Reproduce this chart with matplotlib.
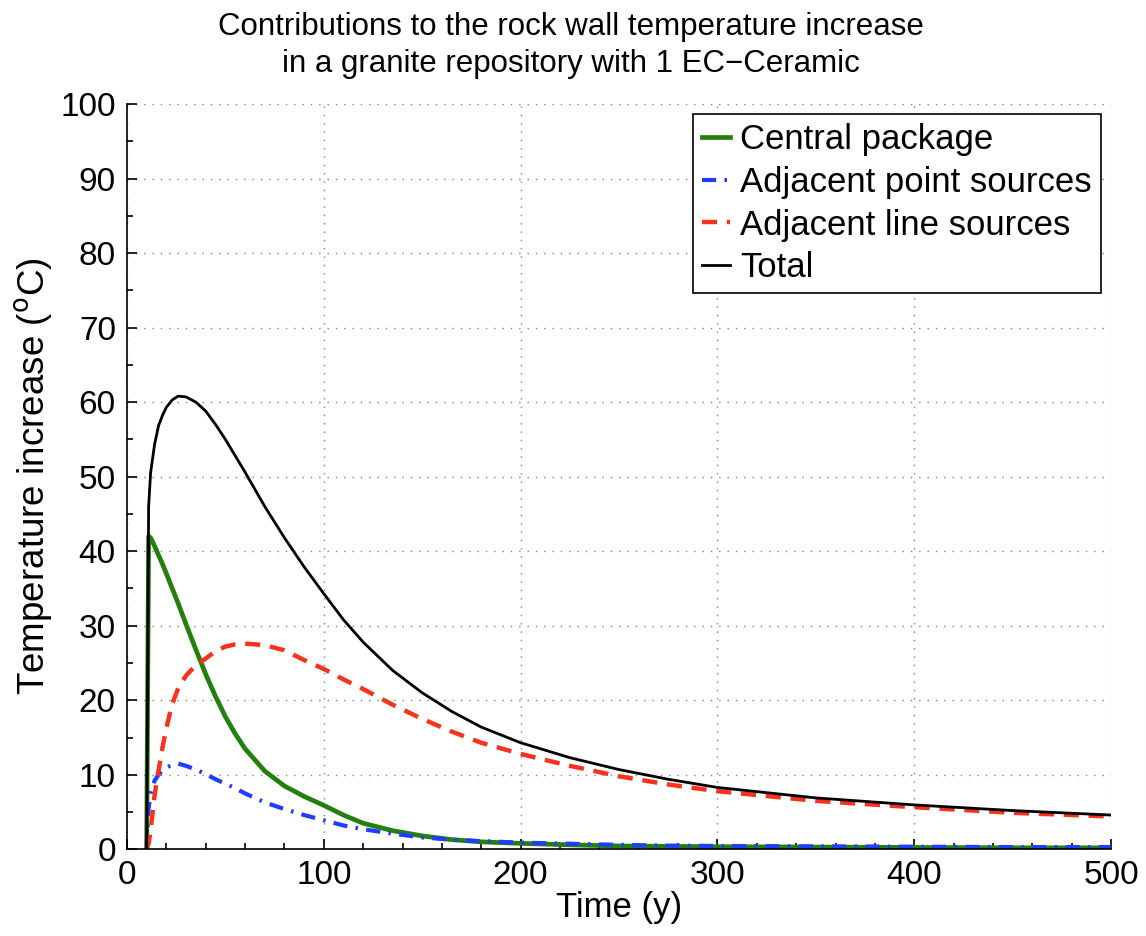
import numpy as np
from matplotlib import pyplot as plt

plt.rcParams['font.family'] = ['Liberation Sans', 'DejaVu Sans']

# values (time in years, temperature increase in C)
t = [10, 11, 12, 14, 16, 18, 20, 23, 26, 30, 35, 40, 45, 50, 55, 60, 70, 80, 90,
     100, 110, 120, 135, 150, 165, 180, 200, 225, 250, 275, 300, 350, 400, 450, 500]

central = [0, 42.0, 41.8, 40.7, 39.5, 38.3, 37.0, 35.0, 33.0, 30.2, 26.8, 23.5, 20.5,
           17.8, 15.5, 13.5, 10.5, 8.5, 7.1, 5.9, 4.6, 3.5, 2.5, 1.8, 1.3, 1.0, 0.8,
           0.6, 0.45, 0.4, 0.35, 0.3, 0.25, 0.2, 0.2]
point_src = [0, 5.5, 7.5, 9.2, 10.0, 10.6, 11.0, 11.3, 11.5, 11.2, 10.7, 10.1, 9.4,
             8.8, 8.2, 7.5, 6.3, 5.4, 4.6, 3.9, 3.2, 2.7, 2.1, 1.6, 1.3, 1.1, 0.9,
             0.75, 0.6, 0.5, 0.45, 0.4, 0.35, 0.3, 0.3]
line_src = [0, 0.8, 2.5, 7.2, 10.5, 13.6, 16.3, 19.5, 21.6, 23.3, 24.7, 25.6, 26.6,
            27.2, 27.5, 27.6, 27.4, 26.7, 25.4, 24.2, 22.8, 21.5, 19.4, 17.5, 15.8,
            14.3, 12.8, 11.2, 9.8, 8.7, 7.8, 6.5, 5.65, 4.9, 4.4]
total = [0, 46.0, 50.5, 54.3, 56.8, 58.2, 59.3, 60.3, 60.8, 60.7, 60.0, 58.8, 57.0,
         55.0, 52.8, 50.6, 46.0, 41.8, 37.9, 34.3, 30.8, 27.8, 24.0, 21.0, 18.5,
         16.4, 14.3, 12.3, 10.7, 9.4, 8.3, 6.9, 5.96, 5.2, 4.6]

fig = plt.figure(figsize=(11.46, 9.36), dpi=100)
ax = fig.add_axes([0.1108, 0.0926, 0.8587, 0.7963])

ax.plot(t, central, color='#23800f', lw=3.4, label='Central package')
ax.plot(t, point_src, color='#1f3cff', lw=3.0, dashes=(3.4, 2.0, 0.6, 2.0),
        label='Adjacent point sources')
ax.plot(t, line_src, color='#f8321c', lw=3.2, dashes=(3.4, 2.2),
        label='Adjacent line sources')
ax.plot(t, total, color='black', lw=2.0, label='Total')

ax.set_xlim(0, 500)
ax.set_ylim(0, 100)
ax.set_xticks(np.arange(0, 501, 100))
ax.set_yticks(np.arange(0, 101, 10))
ax.set_xticks(np.arange(0, 501, 20), minor=True)
ax.set_yticks(np.arange(0, 101, 5), minor=True)
ax.tick_params(which='both', direction='in', labelsize=24, width=1.2)
ax.tick_params(which='major', length=7, pad=8)
ax.tick_params(which='minor', length=4)

ax.spines['top'].set_visible(False)
ax.spines['right'].set_visible(False)
ax.spines['left'].set_linewidth(1.2)
ax.spines['bottom'].set_linewidth(1.2)
ax.grid(True, which='major', color='#808080', linestyle=(0, (1, 5)), lw=1.0)

ax.set_xlabel('Time (y)', fontsize=25, labelpad=0)
ax.set_ylabel(r'Temperature increase ($^{\mathrm{o}}$C)', fontsize=26.5, labelpad=4)
ax.set_title('Contributions to the rock wall temperature increase\n'
             'in a granite repository with 1 EC\u2212Ceramic', fontsize=22.5, pad=23,
             linespacing=1.32, x=0.451)

leg = ax.legend(loc='upper right', fontsize=25, handlelength=0.8, handletextpad=0.3,
                labelspacing=0.28, borderpad=0.25, borderaxespad=0.3,
                fancybox=False, framealpha=1, edgecolor='black')
leg.get_frame().set_linewidth(1.2)

plt.savefig('out.png', dpi=100)
